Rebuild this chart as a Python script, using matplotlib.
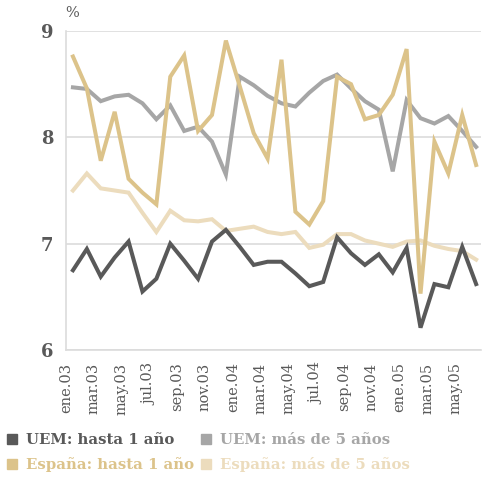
import matplotlib
matplotlib.use("Agg")
import matplotlib.pyplot as plt
from matplotlib.lines import Line2D

# Monthly series, ene.03 - jun.05
months = ["ene.03", "feb.03", "mar.03", "abr.03", "may.03", "jun.03", "jul.03", "ago.03",
          "sep.03", "oct.03", "nov.03", "dic.03", "ene.04", "feb.04", "mar.04", "abr.04",
          "may.04", "jun.04", "jul.04", "ago.04", "sep.04", "oct.04", "nov.04", "dic.04",
          "ene.05", "feb.05", "mar.05", "abr.05", "may.05", "jun.05"]

uem_short = [6.75, 6.95, 6.69, 6.87, 7.02, 6.55, 6.67, 7.00, 6.84, 6.67, 7.02, 7.13, 6.97, 6.80, 6.83,
             6.83, 6.72, 6.60, 6.64, 7.06, 6.91, 6.80, 6.90, 6.73, 6.96, 6.21, 6.62, 6.59, 6.97, 6.62]
uem_long = [8.47, 8.455, 8.34, 8.385, 8.40, 8.32, 8.17, 8.30, 8.06, 8.10, 7.96, 7.65, 8.57, 8.49, 8.39,
            8.32, 8.29, 8.42, 8.53, 8.59, 8.46, 8.34, 8.26, 7.68, 8.35, 8.18, 8.13, 8.20, 8.06, 7.91]
esp_short = [8.76, 8.46, 7.78, 8.24, 7.61, 7.48, 7.37, 8.57, 8.77, 8.06, 8.21, 8.91, 8.48, 8.04, 7.80,
             8.73, 7.30, 7.18, 7.40, 8.57, 8.50, 8.17, 8.21, 8.40, 8.83, 6.53, 7.96, 7.66, 8.21, 7.74]
esp_long = [7.50, 7.66, 7.52, 7.50, 7.48, 7.29, 7.11, 7.31, 7.22, 7.21, 7.23, 7.12, 7.14, 7.16, 7.11,
            7.09, 7.11, 6.96, 6.99, 7.09, 7.09, 7.03, 7.00, 6.97, 7.02, 7.03, 6.98, 6.95, 6.93, 6.85]

labels = ["UEM: hasta 1 año", "UEM: más de 5 años", "España: hasta 1 año", "España: más de 5 años"]
colors = ["#595959", "#a6a6a6", "#dcc38a", "#ecdcbd"]
yticks = [6, 7, 8, 9]

plt.rcParams["font.family"] = ["DejaVu Serif"]

fig = plt.figure(figsize=(4.82, 4.79), dpi=100)
ax = fig.add_axes([66 / 482, 1 - 350 / 479, (481 - 66) / 482, (350 - 31) / 479])

x = list(range(len(months)))
series = [uem_short, uem_long, esp_short, esp_long]
order = [1, 3, 2, 0]
for k in order:
    ax.plot(x, series[k], color=colors[k], lw=2.9, solid_joinstyle="miter", zorder=3)

ax.set_ylim(6, 9)
ax.set_xlim(-0.5, 29.35)
ax.set_yticks(yticks)
ax.set_yticklabels([str(v) for v in yticks])
ax.yaxis.grid(True, color="#dcdcdc", lw=1.2, zorder=0)
ax.set_xticks(x[::2])
ax.set_xticklabels(months[::2], rotation=90, ha="right", va="top")
ax.tick_params(axis="both", length=0, colors="#595959")
ax.tick_params(axis="x", labelsize=10.5, pad=9)
ax.tick_params(axis="y", labelsize=13, pad=9)
for t in ax.get_yticklabels():
    t.set_fontweight("bold")

for side in ["top", "right"]:
    ax.spines[side].set_visible(False)
for side in ["left", "bottom"]:
    ax.spines[side].set_color("#dcdcdc")
    ax.spines[side].set_linewidth(1.2)

fig.text(65 / 482, 1 - 13 / 479, "%", fontsize=10.5, color="#595959", ha="left", va="center")

handles = [Line2D([], [], marker="s", linestyle="none", markersize=7.5,
                  markerfacecolor=colors[k], markeredgecolor=colors[k]) for k in [0, 2, 1, 3]]
leg_labels = [labels[k] for k in [0, 2, 1, 3]]
leg = fig.legend(handles, leg_labels, ncol=2, frameon=False, loc="upper left",
                 bbox_to_anchor=(6 / 482, 1 - 433 / 479), handlelength=0.8, handletextpad=0.55,
                 columnspacing=0.4, labelspacing=0.7, borderaxespad=0, borderpad=0,
                 prop={"weight": "bold", "size": 10.7})
for txt, k in zip(leg.get_texts(), [0, 2, 1, 3]):
    txt.set_color(colors[k])

fig.savefig("out.png", dpi=100)
